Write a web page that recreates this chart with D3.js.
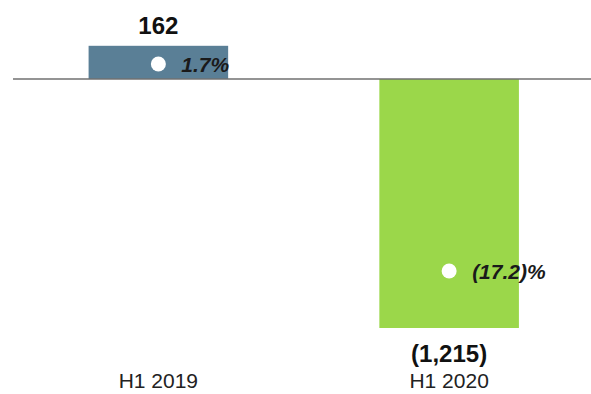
<!DOCTYPE html>
<html>
<head>
<meta charset="utf-8">
<script src="https://cdn.jsdelivr.net/npm/d3@7"></script>
<style>
  html, body { margin: 0; padding: 0; background: #fff; }
  svg { display: block; font-family: "Liberation Sans", Arial, sans-serif; }
</style>
</head>
<body>
<svg id="chart" width="591" height="394"></svg>
<script>
// Half-year result and margin
const periods = ["H1 2019", "H1 2020"];
const values = [162, -1215];
const valueLabels = ["162", "(1,215)"];
const margins = [1.7, -17.2];
const marginLabels = ["1.7%", "(17.2)%"];
const barColors = ["#5a7f96", "#9bd74a"];

const svg = d3.select("#chart");
const W = 591;

const x = d3.scaleBand()
  .domain(periods)
  .range([15.9, 591.6])
  .paddingInner(0.52)
  .paddingOuter(0.25);

const y = d3.scaleLinear()
  .domain([-1215, 0])
  .range([328, 79]);

// secondary scale for margin markers
const yp = d3.scaleLinear()
  .domain([-17.2, 1.7])
  .range([271, 64]);

// bars
svg.selectAll("rect.bar")
  .data(values)
  .join("rect")
  .attr("class", "bar")
  .attr("x", (d, i) => x(periods[i]))
  .attr("width", x.bandwidth())
  .attr("y", d => y(Math.max(0, d)))
  .attr("height", d => Math.abs(y(d) - y(0)))
  .attr("fill", (d, i) => barColors[i]);

// zero line
svg.append("line")
  .attr("x1", 13).attr("x2", W)
  .attr("y1", y(0)).attr("y2", y(0))
  .attr("stroke", "#707070")
  .attr("stroke-width", 1.6);

// value labels
svg.selectAll("text.val")
  .data(values)
  .join("text")
  .attr("class", "val")
  .attr("x", (d, i) => x(periods[i]) + x.bandwidth() / 2)
  .attr("y", d => d >= 0 ? y(d) - 12 : y(d) + 34)
  .attr("text-anchor", "middle")
  .attr("font-weight", "bold")
  .attr("font-size", 24)
  .attr("fill", "#111")
  .text((d, i) => valueLabels[i]);

// margin markers
svg.selectAll("circle.pct")
  .data(margins)
  .join("circle")
  .attr("class", "pct")
  .attr("cx", (d, i) => x(periods[i]) + x.bandwidth() / 2)
  .attr("cy", d => yp(d))
  .attr("r", 7.5)
  .attr("fill", "#fff");

svg.selectAll("text.pct")
  .data(margins)
  .join("text")
  .attr("class", "pct")
  .attr("x", (d, i) => x(periods[i]) + x.bandwidth() / 2 + 23)
  .attr("y", d => yp(d) + 8)
  .attr("font-weight", "bold")
  .attr("font-style", "italic")
  .attr("font-size", 21)
  .attr("fill", "#1a1a1a")
  .text((d, i) => marginLabels[i]);

// category axis labels
svg.selectAll("text.cat")
  .data(periods)
  .join("text")
  .attr("class", "cat")
  .attr("x", d => x(d) + x.bandwidth() / 2)
  .attr("y", 388)
  .attr("text-anchor", "middle")
  .attr("font-size", 21)
  .attr("fill", "#222")
  .text(d => d);
</script>
</body>
</html>
